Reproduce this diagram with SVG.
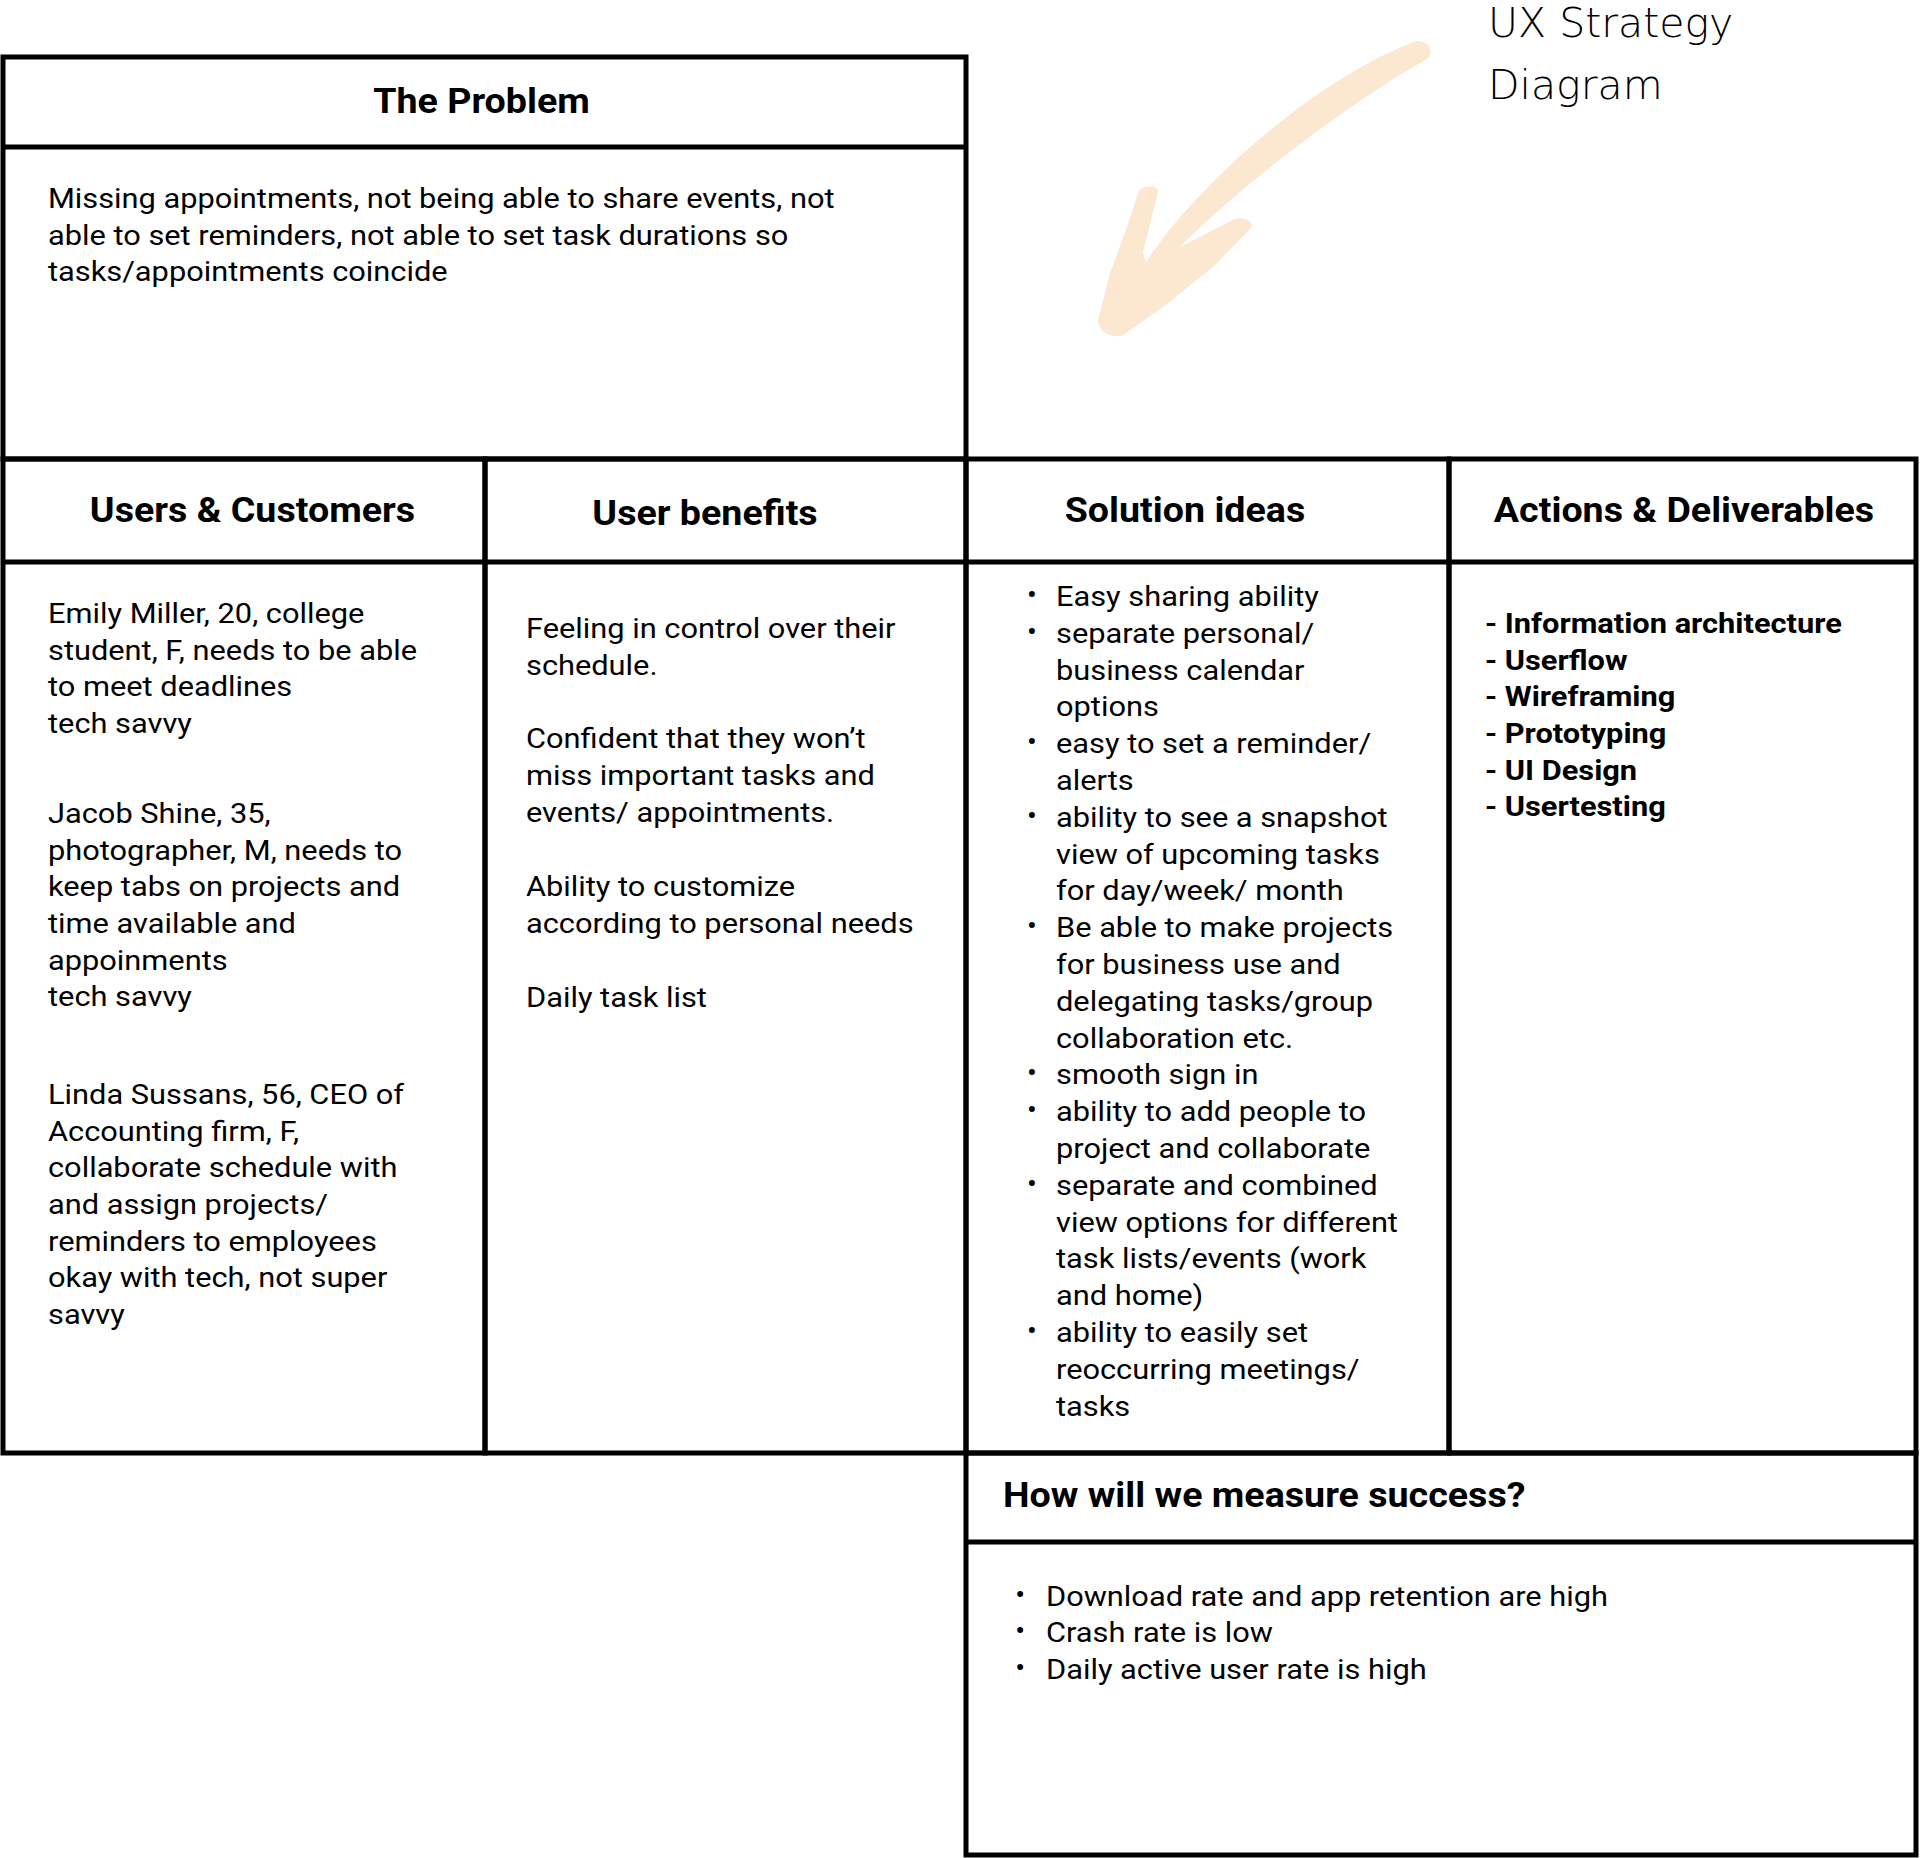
<svg xmlns="http://www.w3.org/2000/svg" width="1920" height="1858" viewBox="0 0 1920 1858">
<style>
.box{fill:none;stroke:#000;stroke-width:5}
.sep{stroke:#000;stroke-width:5}
.body{font-family:Roboto,"Liberation Sans",sans-serif;font-size:28.5px;fill:#000}
.bold{font-family:Roboto,"Liberation Sans",sans-serif;font-size:28.5px;font-weight:bold;fill:#000}
.head{font-family:Roboto,"Liberation Sans",sans-serif;font-size:36px;font-weight:bold;fill:#000}
.mid{text-anchor:middle}
.bul{font-family:Roboto,"Liberation Sans",sans-serif;font-size:27px;fill:#000;text-anchor:middle}
.title{font-family:"DejaVu Sans",sans-serif;font-size:41px;font-weight:300;fill:#000}
</style>
<rect width="1920" height="1858" fill="#fff"/>

<g id="connectors">
<path id="arrow" fill="#FCE8D1" d="M1411,43 C1424,36 1437,50 1427,59 C1352,101 1242,184 1180,247 L1233,220 C1245,214 1256,224 1250,229 L1213,267 L1163,307 L1123,335 C1115,339 1099,334 1098,320 L1110,273 L1127,227 L1138,193 C1141,184 1159,185 1158,192 L1151,220 L1143,253 L1146,262 C1198,183 1316,80 1411,43 Z"/>
</g>

<g id="title">
<text class="title" x="1488" y="37">UX Strategy</text>
<text class="title" x="1488" y="99">Diagram</text>
</g>

<g id="problem">
<rect class="box" x="3" y="57" width="963" height="402"/>
<line class="sep" x1="3" y1="147" x2="966" y2="147"/>
<g transform="translate(481.5 0) scale(1.045 1)"><text class="head mid" x="0" y="113">The Problem</text></g>
<g transform="translate(48 0) scale(1.08 1)">
<text class="body" x="0" y="208">Missing appointments, not being able to share events, not</text>
<text class="body" x="0" y="245">able to set reminders, not able to set task durations so</text>
<text class="body" x="0" y="281">tasks/appointments coincide</text>
</g>
</g>

<g id="users">
<rect class="box" x="3" y="459" width="482" height="994"/>
<line class="sep" x1="3" y1="562" x2="485" y2="562"/>
<g transform="translate(252.5 0) scale(1.045 1)"><text class="head mid" x="0" y="522">Users &amp; Customers</text></g>
<g transform="translate(48 0) scale(1.08 1)">
<text class="body" x="0" y="623">Emily Miller, 20, college</text>
<text class="body" x="0" y="659.7">student, F, needs to be able</text>
<text class="body" x="0" y="696.4">to meet deadlines</text>
<text class="body" x="0" y="733">tech savvy</text>
<text class="body" x="0" y="823">Jacob Shine, 35,</text>
<text class="body" x="0" y="859.7">photographer, M, needs to</text>
<text class="body" x="0" y="896.4">keep tabs on projects and</text>
<text class="body" x="0" y="933">time available and</text>
<text class="body" x="0" y="969.8">appoinments</text>
<text class="body" x="0" y="1006.5">tech savvy</text>
<text class="body" x="0" y="1104">Linda Sussans, 56, CEO of</text>
<text class="body" x="0" y="1140.7">Accounting firm, F,</text>
<text class="body" x="0" y="1177.4">collaborate schedule with</text>
<text class="body" x="0" y="1214">and assign projects/</text>
<text class="body" x="0" y="1250.8">reminders to employees</text>
<text class="body" x="0" y="1287.5">okay with tech, not super</text>
<text class="body" x="0" y="1324.2">savvy</text>
</g>
</g>

<g id="benefits">
<rect class="box" x="485" y="459" width="481" height="994"/>
<line class="sep" x1="485" y1="562" x2="966" y2="562"/>
<g transform="translate(705 0) scale(1.045 1)"><text class="head mid" x="0" y="525">User benefits</text></g>
<g transform="translate(526 0) scale(1.08 1)">
<text class="body" x="0" y="638.3">Feeling in control over their</text>
<text class="body" x="0" y="675">schedule.</text>
<text class="body" x="0" y="748.5">Confident that they won’t</text>
<text class="body" x="0" y="785.2">miss important tasks and</text>
<text class="body" x="0" y="822">events/ appointments.</text>
<text class="body" x="0" y="896.5">Ability to customize</text>
<text class="body" x="0" y="933.2">according to personal needs</text>
<text class="body" x="0" y="1007">Daily task list</text>
</g>
</g>

<g id="solutions">
<rect class="box" x="966" y="459" width="483" height="994"/>
<line class="sep" x1="966" y1="562" x2="1449" y2="562"/>
<g transform="translate(1185 0) scale(1.045 1)"><text class="head mid" x="0" y="522">Solution ideas</text></g>
<g transform="translate(1056 0) scale(1.08 1)">
<text class="bul" x="-22.2" y="604">•</text>
<text class="body" x="0" y="606">Easy sharing ability</text>
<text class="bul" x="-22.2" y="640.8">•</text>
<text class="body" x="0" y="642.8">separate personal/</text>
<text class="body" x="0" y="679.6">business calendar</text>
<text class="body" x="0" y="716.4">options</text>
<text class="bul" x="-22.2" y="751.2">•</text>
<text class="body" x="0" y="753.2">easy to set a reminder/</text>
<text class="body" x="0" y="790">alerts</text>
<text class="bul" x="-22.2" y="824.8">•</text>
<text class="body" x="0" y="826.8">ability to see a snapshot</text>
<text class="body" x="0" y="863.6">view of upcoming tasks</text>
<text class="body" x="0" y="900.4">for day/week/ month</text>
<text class="bul" x="-22.2" y="935.2">•</text>
<text class="body" x="0" y="937.2">Be able to make projects</text>
<text class="body" x="0" y="974">for business use and</text>
<text class="body" x="0" y="1010.8">delegating tasks/group</text>
<text class="body" x="0" y="1047.6">collaboration etc.</text>
<text class="bul" x="-22.2" y="1082.4">•</text>
<text class="body" x="0" y="1084.4">smooth sign in</text>
<text class="bul" x="-22.2" y="1119.2">•</text>
<text class="body" x="0" y="1121.2">ability to add people to</text>
<text class="body" x="0" y="1158">project and collaborate</text>
<text class="bul" x="-22.2" y="1192.8">•</text>
<text class="body" x="0" y="1194.8">separate and combined</text>
<text class="body" x="0" y="1231.6">view options for different</text>
<text class="body" x="0" y="1268.4">task lists/events (work</text>
<text class="body" x="0" y="1305.2">and home)</text>
<text class="bul" x="-22.2" y="1340">•</text>
<text class="body" x="0" y="1342">ability to easily set</text>
<text class="body" x="0" y="1378.8">reoccurring meetings/</text>
<text class="body" x="0" y="1415.6">tasks</text>
</g>
</g>

<g id="actions">
<rect class="box" x="1449" y="459" width="467" height="994"/>
<line class="sep" x1="1449" y1="562" x2="1916" y2="562"/>
<g transform="translate(1684 0) scale(1.045 1)"><text class="head mid" x="0" y="522">Actions &amp; Deliverables</text></g>
<g transform="translate(1485 0) scale(1.08 1)">
<text class="bold" x="0" y="633">- Information architecture</text>
<text class="bold" x="0" y="669.7">- Userflow</text>
<text class="bold" x="0" y="706.4">- Wireframing</text>
<text class="bold" x="0" y="743.1">- Prototyping</text>
<text class="bold" x="0" y="779.8">- UI Design</text>
<text class="bold" x="0" y="816.5">- Usertesting</text>
</g>
</g>

<g id="measure">
<rect class="box" x="966" y="1453" width="950" height="402"/>
<line class="sep" x1="966" y1="1542" x2="1916" y2="1542"/>
<g transform="translate(1003 0) scale(1.045 1)"><text class="head" x="0" y="1507">How will we measure success?</text></g>
<g transform="translate(1046 0) scale(1.08 1)">
<text class="bul" x="-24" y="1603.7">•</text>
<text class="body" x="0" y="1605.7">Download rate and app retention are high</text>
<text class="bul" x="-24" y="1640.4">•</text>
<text class="body" x="0" y="1642.4">Crash rate is low</text>
<text class="bul" x="-24" y="1677">•</text>
<text class="body" x="0" y="1679">Daily active user rate is high</text>
</g>
</g>
</svg>
